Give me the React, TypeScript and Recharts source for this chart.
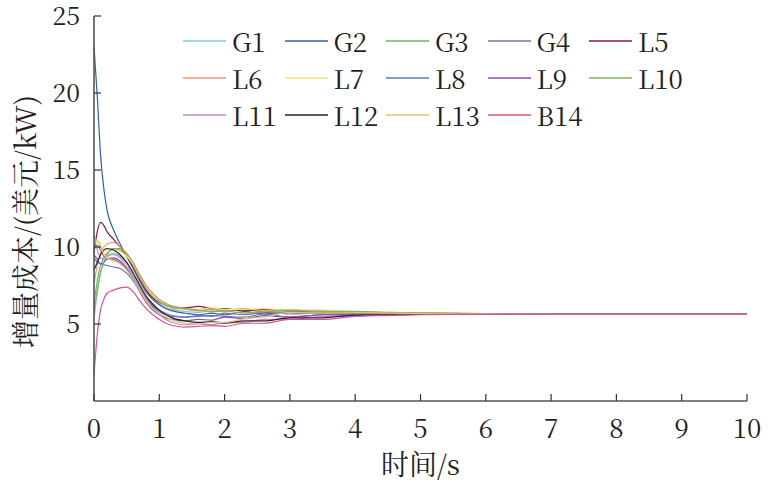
import React from 'react';
import { LineChart, Line, XAxis, YAxis, Legend, Label } from 'recharts';

const TIME = [0, 0.05, 0.1, 0.15, 0.2, 0.3, 0.4, 0.5, 0.6, 0.7, 0.8, 0.9, 1.0, 1.1, 1.2, 1.4, 1.6, 1.8, 2.0, 2.3, 2.6, 3.0, 3.5, 4.0, 4.5, 5.0, 6.0, 7.0, 8.0, 10.0];

const G1 = [5.3, 7.0, 8.3, 9.0, 9.4, 9.6, 9.4, 9.0, 8.3, 7.6, 7.0, 6.6, 6.3, 6.1, 5.95, 5.8, 5.75, 5.85, 5.8, 5.95, 5.8, 5.85, 5.75, 5.75, 5.7, 5.68, 5.66, 5.65, 5.65, 5.65];
const G2 = [23.0, 19.8, 16.0, 13.8, 12.4, 11.1, 10.2, 9.4, 8.6, 7.8, 7.1, 6.6, 6.25, 6.0, 5.85, 5.7, 5.6, 5.7, 5.6, 5.8, 5.65, 5.75, 5.65, 5.72, 5.68, 5.67, 5.66, 5.65, 5.65, 5.65];
const G3 = [6.3, 7.8, 8.8, 9.3, 9.6, 9.9, 9.8, 9.4, 8.8, 8.0, 7.3, 6.8, 6.5, 6.25, 6.1, 6.0, 5.9, 5.95, 5.85, 5.9, 5.8, 5.9, 5.8, 5.78, 5.72, 5.7, 5.67, 5.66, 5.65, 5.65];
const G4 = [10.0, 10.1, 9.8, 9.4, 9.3, 9.2, 9.0, 8.6, 8.0, 7.3, 6.7, 6.2, 5.9, 5.7, 5.55, 5.45, 5.55, 5.5, 5.7, 5.6, 5.75, 5.65, 5.72, 5.66, 5.67, 5.66, 5.65, 5.65, 5.65, 5.65];
const L5 = [9.6, 11.0, 11.6, 11.4, 11.0, 10.5, 10.0, 9.4, 8.7, 7.9, 7.2, 6.7, 6.4, 6.25, 6.15, 6.05, 6.15, 6.0, 6.0, 5.85, 5.95, 5.85, 5.85, 5.75, 5.74, 5.7, 5.67, 5.66, 5.65, 5.65];
const L6 = [7.6, 8.8, 9.6, 10.0, 10.2, 10.3, 10.0, 9.5, 8.8, 8.0, 7.3, 6.8, 6.45, 6.2, 6.05, 5.95, 5.85, 5.95, 5.9, 6.0, 5.85, 5.9, 5.8, 5.78, 5.72, 5.7, 5.67, 5.66, 5.65, 5.65];
const L7 = [10.2, 10.4, 10.2, 9.9, 9.7, 9.8, 9.7, 9.4, 8.9, 8.2, 7.5, 6.9, 6.55, 6.3, 6.15, 6.0, 5.95, 6.05, 5.95, 5.95, 6.0, 5.9, 5.9, 5.8, 5.76, 5.72, 5.68, 5.66, 5.65, 5.65];
const L8 = [9.3, 9.0, 8.9, 8.85, 8.8, 8.7, 8.6, 8.3, 7.8, 7.2, 6.6, 6.1, 5.8, 5.6, 5.5, 5.45, 5.5, 5.55, 5.5, 5.45, 5.65, 5.45, 5.6, 5.62, 5.66, 5.66, 5.65, 5.65, 5.65, 5.65];
const L9 = [9.5, 9.2, 8.9, 9.0, 9.2, 9.3, 9.1, 8.6, 7.9, 7.1, 6.4, 5.9, 5.6, 5.4, 5.3, 5.2, 5.3, 5.25, 5.45, 5.35, 5.55, 5.45, 5.6, 5.55, 5.62, 5.63, 5.64, 5.65, 5.65, 5.65];
const L10 = [5.8, 7.2, 8.3, 9.0, 9.5, 9.9, 9.9, 9.6, 9.0, 8.2, 7.5, 7.0, 6.6, 6.35, 6.15, 6.0, 5.9, 5.8, 5.85, 5.7, 5.8, 5.9, 5.82, 5.82, 5.75, 5.72, 5.68, 5.66, 5.65, 5.65];
const L11 = [10.8, 9.8, 9.3, 9.2, 9.4, 9.5, 9.3, 8.8, 8.1, 7.3, 6.6, 6.0, 5.6, 5.3, 5.1, 4.95, 5.0, 4.95, 5.1, 5.1, 5.3, 5.3, 5.5, 5.5, 5.6, 5.62, 5.64, 5.65, 5.65, 5.65];
const L12 = [8.5, 9.0, 9.5, 9.8, 9.9, 9.8, 9.5, 9.0, 8.3, 7.5, 6.8, 6.3, 5.9, 5.6, 5.4, 5.2, 5.1, 5.15, 5.05, 5.2, 5.2, 5.4, 5.4, 5.58, 5.6, 5.62, 5.64, 5.65, 5.65, 5.65];
const L13 = [10.5, 10.4, 10.0, 9.6, 9.3, 9.1, 8.9, 8.5, 7.9, 7.2, 6.5, 6.0, 5.7, 5.45, 5.25, 5.05, 5.0, 5.1, 5.1, 5.35, 5.45, 5.75, 5.7, 5.74, 5.7, 5.68, 5.66, 5.65, 5.65, 5.65];
const B14 = [1.7, 4.3, 5.9, 6.6, 7.0, 7.2, 7.35, 7.4, 7.1, 6.5, 6.0, 5.6, 5.3, 5.05, 4.9, 4.8, 4.85, 4.9, 4.85, 5.05, 5.05, 5.3, 5.3, 5.5, 5.55, 5.6, 5.63, 5.65, 5.65, 5.65];

const SERIES_NAMES = ['G1', 'G2', 'G3', 'G4', 'L5', 'L6', 'L7', 'L8', 'L9', 'L10', 'L11', 'L12', 'L13', 'B14'];
const SERIES_VALUES = [G1, G2, G3, G4, L5, L6, L7, L8, L9, L10, L11, L12, L13, B14];
const SERIES_COLORS = ['#7ccad8', '#2f62a0', '#6fb85a', '#8a6aa8', '#8a1f2e', '#f0907a', '#f0e470', '#5a7ab8', '#8a4fa8', '#88b060', '#b890c8', '#262626', '#e8c070', '#d8509a'];

const X_TICKS = [0, 1, 2, 3, 4, 5, 6, 7, 8, 9, 10];
const Y_TICKS = [5, 10, 15, 20, 25];

const data = TIME.map((t, i) => {
  const row: Record<string, number> = { t };
  SERIES_NAMES.forEach((n, k) => {
    row[n] = SERIES_VALUES[k][i];
  });
  return row;
});

const FONT = "'Noto Serif CJK SC', serif";
const TEXT = '#1f1f1f';
const AXIS = '#555555';

const YTick = (props: any) => {
  const { x, y, payload } = props;
  return (
    <g>
      <line x1={x + 14} x2={x + 21} y1={y} y2={y} stroke="#333" strokeWidth={1.2} />
      <text x={x} y={y} dy="0.36em" textAnchor="end" fontSize={25} fontFamily={FONT} fill={TEXT}>
        {payload.value}
      </text>
    </g>
  );
};

const XTick = (props: any) => {
  const { x, y, payload } = props;
  return (
    <g>
      <line x1={x} x2={x} y1={y} y2={y - 7} stroke="#333" strokeWidth={1.2} />
      <text x={x} y={y + 37} textAnchor="middle" fontSize={26} fontFamily={FONT} fill={TEXT}>
        {payload.value}
      </text>
    </g>
  );
};

const LegendContent = (props: any) => {
  const items = [...(props.payload || [])].sort(
    (a: any, b: any) => SERIES_NAMES.indexOf(a.value) - SERIES_NAMES.indexOf(b.value)
  );
  return (
    <div style={{ display: 'grid', gridTemplateColumns: 'repeat(5, 101.5px)' }}>
      {items.map((item: any) => (
        <div key={item.value} style={{ display: 'flex', alignItems: 'center', height: 37 }}>
          <svg width={43} height={4} style={{ marginRight: 6, flexShrink: 0 }}>
            <line x1={0} x2={43} y1={2} y2={2} stroke={item.color} strokeWidth={1.6} />
          </svg>
          <span style={{ fontSize: 26, color: TEXT, lineHeight: '26px', fontFamily: FONT }}>{item.value}</span>
        </div>
      ))}
    </div>
  );
};

export default function App() {
  return (
    <div style={{ position: 'absolute', left: 0, top: 0, width: 768, height: 487, background: '#fff' }}>
      <LineChart width={768} height={487} data={data} margin={{ top: 16, right: 21, left: 0, bottom: 0 }}>
        <XAxis
          dataKey="t"
          type="number"
          domain={[0, 10]}
          ticks={X_TICKS}
          interval={0}
          height={86}
          tickSize={0}
          tickMargin={0}
          tickLine={false}
          axisLine={{ stroke: AXIS, strokeWidth: 1.6 }}
          tick={<XTick />}
        >
          <Label
            content={(p: any) => {
              const vb = p.viewBox || {};
              return (
                <text
                  x={vb.x + vb.width / 2}
                  y={vb.y + 74}
                  textAnchor="middle"
                  fontSize={28}
                  fontFamily={FONT}
                  fill={TEXT}
                >
                  时间/s
                </text>
              );
            }}
          />
        </XAxis>
        <YAxis
          type="number"
          domain={[0, 25]}
          ticks={Y_TICKS}
          interval={0}
          width={94}
          tickSize={0}
          tickMargin={14}
          tickLine={false}
          axisLine={{ stroke: AXIS, strokeWidth: 1.6 }}
          tick={<YTick />}
        >
          <Label
            content={(p: any) => {
              const vb = p.viewBox || {};
              const cx = vb.x + 24;
              const cy = vb.y + vb.height / 2 + 13;
              return (
                <text
                  x={cx}
                  y={cy}
                  transform={`rotate(-90, ${cx}, ${cy})`}
                  textAnchor="middle"
                  dominantBaseline="central"
                  fontSize={28}
                  fontFamily={FONT}
                  fill={TEXT}
                >
                  增量成本/(美元/kW)
                </text>
              );
            }}
          />
        </YAxis>
        <Legend
          layout="horizontal"
          verticalAlign="middle"
          align="center"
          itemSorter={null as any}
          wrapperStyle={{ top: 22, left: 183, width: 560 }}
          content={<LegendContent />}
        />
        {SERIES_NAMES.map((n, k) => (
          <Line
            key={n}
            dataKey={n}
            name={n}
            type="monotone"
            stroke={SERIES_COLORS[k]}
            strokeWidth={1.2}
            dot={false}
            isAnimationActive={false}
          />
        ))}
      </LineChart>
    </div>
  );
}
